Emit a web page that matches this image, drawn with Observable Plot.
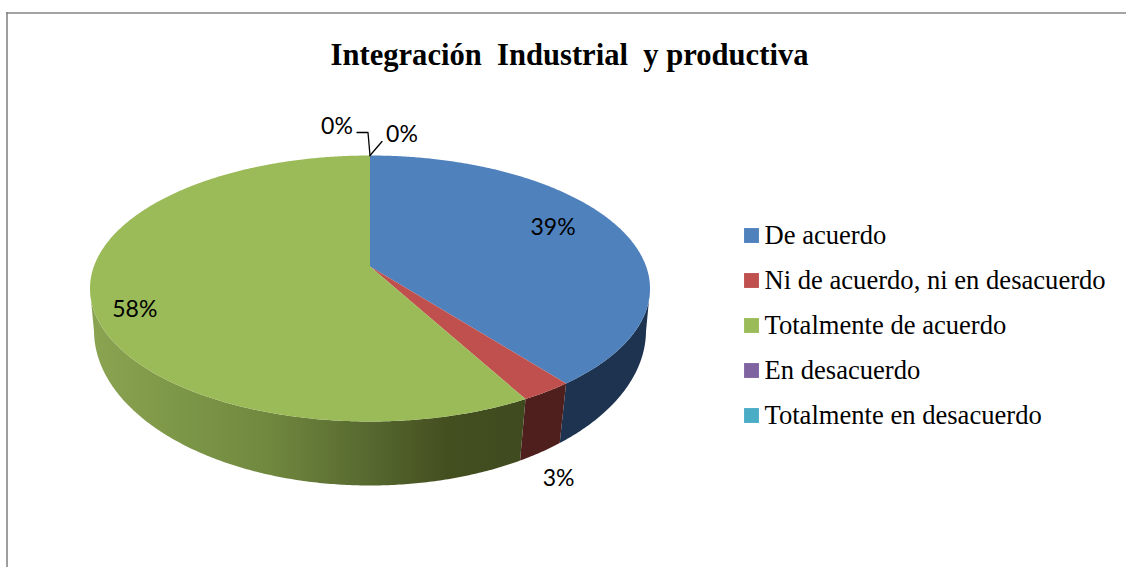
<!DOCTYPE html>
<html lang="es">
<head>
<meta charset="utf-8">
<title>Integración Industrial y productiva</title>
<style>html,body{margin:0;padding:0;background:#fff;overflow:hidden}svg{display:block}</style>
<script src="https://cdn.jsdelivr.net/npm/d3@7"></script>
<script src="https://cdn.jsdelivr.net/npm/@observablehq/plot@0.6"></script>
</head>
<body>
<div id="chart"></div>
<script>
const chartTitle = "Integración  Industrial  y productiva";
const categories = ["De acuerdo", "Ni de acuerdo, ni en desacuerdo", "Totalmente de acuerdo", "En desacuerdo", "Totalmente en desacuerdo"];
const shares = [39.4, 2.6, 58, 0, 0];
const topColors = ["#4f81bd", "#c0504d", "#9bbb59", "#8064a2", "#4bacc6"];
const sideColors = ["#1d334f", "#4f1f1e", "url(#green-side)", "#4d3c62", "#2d6776"];

const W = 1126, H = 567;
// the tilted disc: top face and bottom rim, with a perspective shift of the centre
const topFace = {cx: 369.5, cy: 288, rx: 280, ry: 133, shift: -0.165};
const baseFace = {cx: 369.5, cy: 330, rx: 276, ry: 155, shift: -0.14};

function project(theta, face, r = 1) {
  const u = r * Math.sin(theta), v = -r * Math.cos(theta), a = face.shift;
  const d = 1 + a * v;
  const up = u * Math.sqrt(1 - a * a) / d, vp = (v + a) / d;
  return {x: face.cx + face.rx * up, y: face.cy + face.ry * vp, front: vp >= 0};
}
function arc(a0, a1, face) {
  const n = Math.max(1, Math.ceil((a1 - a0) / (Math.PI / 360)));
  return d3.range(n + 1).map(i => project(a0 + (a1 - a0) * i / n, face));
}

const slices = d3.pie().sort(null).value(d => d)(shares);
const drawn = slices.map((s, i) => ({...s, i})).filter(s => s.value > 0);

const sideMarks = drawn.map(s => {
  const upper = arc(s.startAngle, s.endAngle, topFace).filter(p => p.front);
  const lower = arc(s.startAngle, s.endAngle, baseFace).filter(p => p.front).reverse();
  return Plot.line([...upper, ...lower], {x: "x", y: "y", fill: sideColors[s.i], stroke: "none", curve: "linear"});
});
const topMarks = drawn.map(s =>
  Plot.line([project(0, topFace, 0), ...arc(s.startAngle, s.endAngle, topFace)],
    {x: "x", y: "y", fill: topColors[s.i], stroke: "none", curve: "linear"}));

// data labels, anchored on each slice's mid angle, then nudged
const nudges = [
  {r: 0.7, dx: 7, dy: -10},
  {r: 1, dx: 12, dy: 87},
  {r: 0.88, dx: 9, dy: 14},
  {r: 1, dx: -33, dy: -29},
  {r: 1, dx: 32, dy: -21}
];
const labels = slices.map((s, i) => {
  const p = project((s.startAngle + s.endAngle) / 2, topFace, nudges[i].r);
  return {x: p.x + nudges[i].dx, y: p.y + nudges[i].dy, text: `${Math.round(s.value)}%`};
});
const rim = project(2 * Math.PI, topFace);
const leaderLeft = [rim, {x: rim.x - 2, y: rim.y - 23}, {x: rim.x - 13, y: rim.y - 23}];
const leaderRight = [rim, {x: rim.x + 12, y: rim.y - 14}];

const legendRows = categories.map((c, i) => ({name: c, color: topColors[i], x: 751, y: 235 + i * 45}));

const plot = Plot.plot({
  width: W, height: H, margin: 0,
  x: {domain: [0, W], range: [0, W], axis: null},
  y: {domain: [0, H], range: [0, H], axis: null},
  style: {background: "#fff", whiteSpace: "pre"},
  marks: [
    Plot.ruleY([12.5], {x1: 6, x2: W, stroke: "#868686", strokeWidth: 1.4}),
    Plot.ruleX([6.5], {y1: 12, y2: H, stroke: "#868686", strokeWidth: 1.6}),
    Plot.text([chartTitle], {x: () => 569, y: () => 55, text: d => d, fontFamily: "Liberation Serif", fontWeight: "bold", fontSize: 30.6, fill: "#000"}),
    ...sideMarks,
    ...topMarks,
    Plot.line(leaderLeft, {x: "x", y: "y", stroke: "#000", strokeWidth: 1.3, curve: "linear"}),
    Plot.line(leaderRight, {x: "x", y: "y", stroke: "#000", strokeWidth: 1.3, curve: "linear"}),
    Plot.text(labels, {x: "x", y: "y", text: "text", fontFamily: "Lato", fontSize: 23, fill: "#000"}),
    Plot.dot(legendRows, {x: "x", y: "y", symbol: "square", r: 8.4, fill: "color", stroke: "none"}),
    Plot.text(legendRows, {x: d => d.x + 13, y: "y", text: "name", textAnchor: "start", fontFamily: "Liberation Serif", fontSize: 26.6, fill: "#000"})
  ]
});

// horizontal shading of the green wall, in fractions of its own width
const NS = "http://www.w3.org/2000/svg";
const defs = document.createElementNS(NS, "defs");
const grad = document.createElementNS(NS, "linearGradient");
grad.setAttribute("id", "green-side");
[[0, "#8ba452"], [0.2, "#7d9748"], [0.4, "#71893f"], [0.63, "#586a30"], [0.82, "#444f20"], [1, "#3f4a1f"]].forEach(([o, c]) => {
  const st = document.createElementNS(NS, "stop");
  st.setAttribute("offset", o);
  st.setAttribute("stop-color", c);
  grad.appendChild(st);
});
defs.appendChild(grad);
plot.insertBefore(defs, plot.firstChild);
document.getElementById("chart").appendChild(plot);
</script>
</body>
</html>
